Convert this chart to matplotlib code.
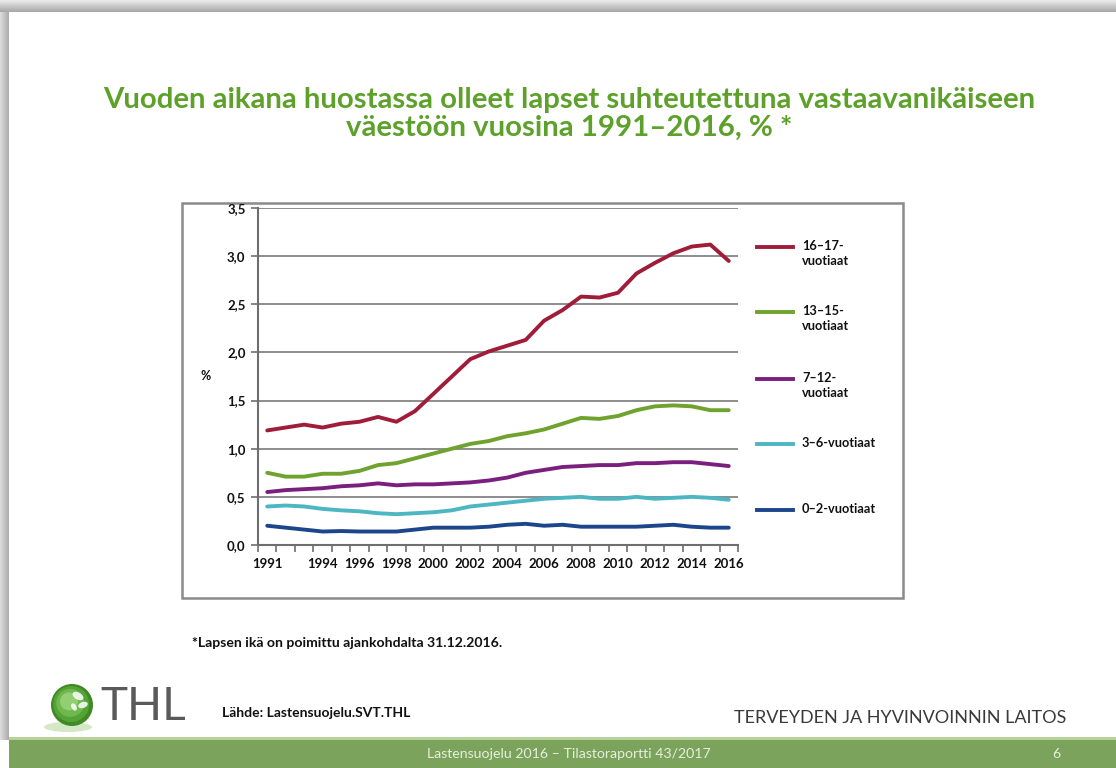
import numpy as np
import matplotlib
matplotlib.use("Agg")
import matplotlib.pyplot as plt
from matplotlib.patches import Rectangle, Circle, Ellipse
from matplotlib.lines import Line2D
from matplotlib.ticker import FuncFormatter, FixedLocator

# ---------------- data ----------------
years = list(range(1991, 2017))
age_16_17 = [1.19, 1.22, 1.25, 1.22, 1.26, 1.28, 1.33, 1.28, 1.39, 1.57, 1.75, 1.93, 2.01, 2.07, 2.13,
             2.33, 2.44, 2.58, 2.57, 2.62, 2.82, 2.93, 3.03, 3.10, 3.12, 2.95]
age_13_15 = [0.75, 0.71, 0.71, 0.74, 0.74, 0.77, 0.83, 0.85, 0.90, 0.95, 1.00, 1.05, 1.08, 1.13, 1.16,
             1.20, 1.26, 1.32, 1.31, 1.34, 1.40, 1.44, 1.45, 1.44, 1.40, 1.40]
age_7_12 = [0.55, 0.57, 0.58, 0.59, 0.61, 0.62, 0.64, 0.62, 0.63, 0.63, 0.64, 0.65, 0.67, 0.70, 0.75,
            0.78, 0.81, 0.82, 0.83, 0.83, 0.85, 0.85, 0.86, 0.86, 0.84, 0.82]
age_3_6 = [0.40, 0.41, 0.40, 0.375, 0.36, 0.35, 0.33, 0.32, 0.33, 0.34, 0.36, 0.40, 0.42, 0.44, 0.46,
           0.48, 0.49, 0.50, 0.48, 0.48, 0.50, 0.48, 0.49, 0.50, 0.49, 0.47]
age_0_2 = [0.20, 0.18, 0.16, 0.14, 0.145, 0.14, 0.14, 0.14, 0.16, 0.18, 0.18, 0.18, 0.19, 0.21, 0.22,
           0.20, 0.21, 0.19, 0.19, 0.19, 0.19, 0.20, 0.21, 0.19, 0.18, 0.18]
series_labels = ["16–17-\nvuotiaat", "13–15-\nvuotiaat", "7–12-\nvuotiaat", "3–6-vuotiaat", "0–2-vuotiaat"]
xtick_years = [1991, 1994, 1996, 1998, 2000, 2002, 2004, 2006, 2008, 2010, 2012, 2014, 2016]
yticks = [0.0, 0.5, 1.0, 1.5, 2.0, 2.5, 3.0, 3.5]

title = "Vuoden aikana huostassa olleet lapset suhteutettuna vastaavanikäiseen\nväestöön vuosina 1991–2016, % *"
footnote = "*Lapsen ikä on poimittu ajankohdalta 31.12.2016."
source = "Lähde: Lastensuojelu.SVT.THL"
org = "TERVEYDEN JA HYVINVOINNIN LAITOS"
footer = "Lastensuojelu 2016 – Tilastoraportti 43/2017"
page = "6"

colors = ["#A01D3A", "#6FA22E", "#7A1F7E", "#4DB6C3", "#1C468C"]
series = [age_16_17, age_13_15, age_7_12, age_3_6, age_0_2]

W, H = 1116, 768
plt.rcParams['font.family'] = ['Lato', 'DejaVu Sans']
fig = plt.figure(figsize=(W / 100, H / 100), dpi=100)
fig.patch.set_facecolor("white")

# ---------------- background / slide decoration ----------------
bg = fig.add_axes([0, 0, 1, 1], zorder=0)
bg.axis("off")

top = np.linspace(0.92, 0.66, 12)[:, None, None] * np.ones((12, 10, 3))
bg.imshow(top, extent=(0, W, 12, 0), aspect="auto", interpolation="bilinear", zorder=1)
left = np.linspace(0.86, 0.68, 9)[None, :, None] * np.ones((10, 9, 3))
bg.imshow(left, extent=(0, 9, 740, 12), aspect="auto", interpolation="bilinear", zorder=1)
bg.set_xlim(0, W)
bg.set_ylim(H, 0)

# green footer bar
bg.add_patch(Rectangle((9, 740), W - 9, 28, facecolor="#7BA35B", edgecolor="none", zorder=2))
bg.add_patch(Rectangle((9, 737), W - 9, 3, facecolor="#B5D29A", edgecolor="none", zorder=2))
bg.text(569, 754, footer, ha="center", va="center", fontsize=10.2, color="#E6EFDD", zorder=3)
bg.text(1056, 754, page, ha="center", va="center", fontsize=10.2, color="#E6EFDD", zorder=3)

# chart box
bg.add_patch(Rectangle((182, 203), 721, 395, facecolor="white", edgecolor="#8A8A8A", lw=1.8, zorder=2))

# title (two lines placed separately to match line spacing)
title_lines = title.split("\n")
bg.text(569, 100, title_lines[0], ha="center", va="center", fontsize=21.2, fontweight="bold",
        color="#5DA12B", zorder=3)
bg.text(569, 128, title_lines[1], ha="center", va="center", fontsize=21.2, fontweight="bold",
        color="#5DA12B", zorder=3)

# footnote, source, org
bg.text(192, 643, footnote, ha="left", va="center", fontsize=10.1, fontweight="bold", color="#111111", zorder=3)
bg.text(222, 713, source, ha="left", va="center", fontsize=10.0, fontweight="bold", color="#111111", zorder=3)
bg.text(1066, 718, org, ha="right", va="center", fontsize=13.0, fontweight="normal", color="#3A3A3A", zorder=3)

# THL logo
bg.add_patch(Ellipse((68, 727), 48, 10, facecolor="#D5E8C6", edgecolor="none", zorder=2))
for r, c in [(21, "#3F8A24"), (18, "#55A236"), (14, "#6EB84C"), (9, "#93CF72")]:
    bg.add_patch(Circle((72 - (21 - r) * 0.25, 705 - (21 - r) * 0.3), r, facecolor=c, edgecolor="none", zorder=3))
for dx, dy, w, h, a in [(6, -9, 12, 7, 30), (11, 0, 10, 6, -20), (2, 2, 8, 5, 60)]:
    bg.add_patch(Ellipse((72 + dx, 705 + dy), w, h, angle=a, facecolor="white", edgecolor="none", alpha=0.85, zorder=4))
bg.text(100, 707, "THL", ha="left", va="center", fontsize=33, fontweight="normal", color="#5A5A5A", zorder=3)

# ---------------- chart ----------------
L, R, T, B = 258, 738, 208, 545
ax = fig.add_axes([L / W, 1 - B / H, (R - L) / W, (B - T) / H], zorder=5)
ax.patch.set_alpha(0)

for vals, col in zip(series, colors):
    ax.plot(years, vals, color=col, lw=2.8, solid_capstyle="round", solid_joinstyle="round", zorder=3)

ax.set_xlim(years[0] - 0.5, years[-1] + 0.5)
ax.set_ylim(0, 3.5)
ax.set_yticks(yticks)
ax.yaxis.set_major_formatter(FuncFormatter(lambda v, p: f"{v:.1f}".replace(".", ",")))
ax.yaxis.grid(True, color="#8C8C8C", lw=1.4)
ax.set_axisbelow(True)

ax.xaxis.set_major_locator(FixedLocator(xtick_years))
ax.set_xticklabels([str(y) for y in xtick_years])
ax.xaxis.set_minor_locator(FixedLocator([y - 0.5 for y in years] + [years[-1] + 0.5]))
ax.tick_params(axis="x", which="major", length=0, pad=9, labelsize=9.5, labelcolor="#111111")
ax.tick_params(axis="x", which="minor", length=5, width=1.3, color="#7A7A7A")
ax.tick_params(axis="y", length=5, width=1.3, color="#7A7A7A", pad=4, labelsize=9.5, labelcolor="#111111")
for lab in ax.get_xticklabels() + ax.get_yticklabels():
    lab.set_fontweight("bold")

for s in ["top", "right"]:
    ax.spines[s].set_visible(False)
for s in ["left", "bottom"]:
    ax.spines[s].set_color("#6E6E6E")
    ax.spines[s].set_linewidth(1.5)

ax.set_ylabel("%", rotation=0, fontsize=9, fontweight="bold", color="#111111", va="center")
ax.yaxis.set_label_coords(-0.11, 0.5)

# ---------------- legend (manual, keys aligned with first text line) ----------------
leg_y = [247, 312, 379, 444, 510]
for yy, col, lab in zip(leg_y, colors, series_labels):
    bg.add_line(Line2D([757, 793], [yy, yy], color=col, lw=2.8, zorder=6))
    bg.text(802, yy - 7, lab, ha="left", va="top", fontsize=9.2, fontweight="bold",
            color="#111111", linespacing=1.3, zorder=6)

fig.savefig("out.png", dpi=100)
